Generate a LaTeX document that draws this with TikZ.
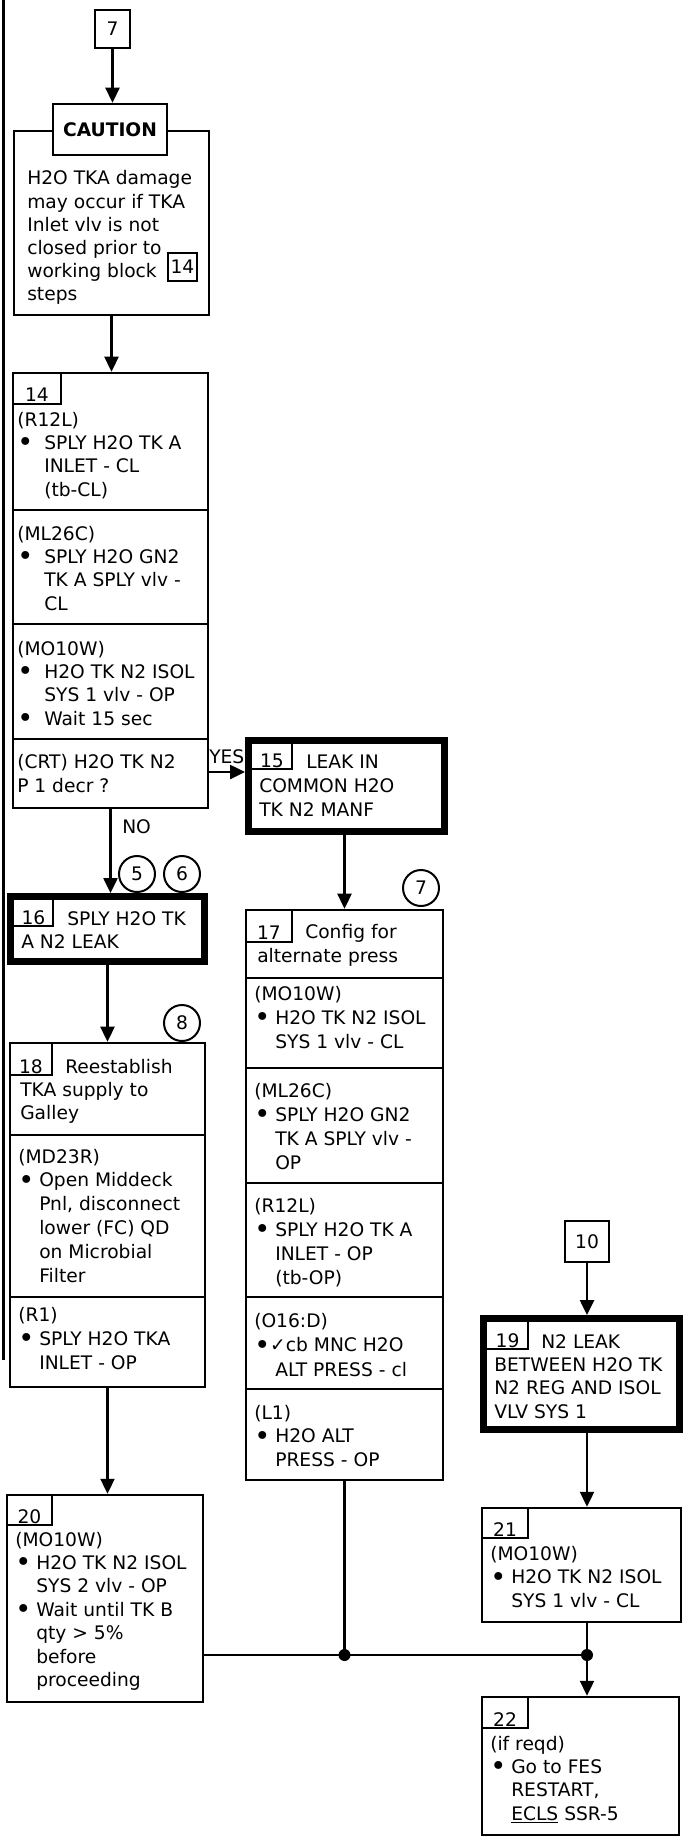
\documentclass[tikz,border=0pt]{standalone}
\usepackage{fontspec}
\usepackage{graphicx}
\setmainfont{DejaVu Sans}
\usetikzlibrary{arrows.meta,fit}
\newlength\bw
\setlength\bw{15.75pt}
\newcommand\fsz{\fontsize{14pt}{16pt}\selectfont}
\newcommand\bigbul{\raisebox{-1.9pt}{\scalebox{1.45}{•}}}
\newcommand\bul{\makebox[\bw][l]{\bigbul}}
\newcommand\cnt{\hspace*{\bw}}
\newcommand\mkbx[6]{\path (#3,#4) coordinate (#2a) (#5,#6) coordinate (#2b); \node[#1, fit=(#2a)(#2b)] (#2) {};}
\newcommand\txtlines[5]{\foreach \s [count=\i] in {#5} {\node[txt] (#1-\i) at ({#2},{#3+(\i-1)*#4}) {\s};}}
\tikzset{
  ln/.style={line width=1.8pt},
  tabln/.style={line width=1.6pt},
  bx/.style={draw, line width=1.9pt, inner sep=0pt, outer sep=0.95pt},
  tbx/.style={draw, line width=5.25pt, inner sep=0pt, outer sep=2.6pt},
  txt/.style={anchor=base west, inner sep=0pt, font=\fsz},
  num/.style={anchor=base, inner sep=0pt, font=\fsz},
  arr/.style={line width=1.8pt, -{Triangle[length=11.25pt,width=10.5pt]}},
  cir/.style={circle, draw, line width=1.5pt, minimum size=27pt, inner sep=0pt, font=\fsz},
}
\begin{document}
\begin{tikzpicture}[x=0.75pt,y=-0.75pt]
\useasboundingbox (0,0) rectangle (686,1844);
% margin rule
\draw[line width=2.25pt] (3,0) -- (3,1360);

% box 7 and caution
\mkbx{bx}{b7}{95}{10}{130}{48}
\node[font=\fsz] (t7) at (b7) {7};
\mkbx{bx}{caut}{14}{131}{209}{315}
\mkbx{bx,fill=white,line width=2.2pt}{cap}{53}{104}{167}{155}
\node[font=\fsz\bfseries] (capt) at (cap) {CAUTION};
\draw[arr] (b7.south) -- (b7.south |- cap.north);
\txtlines{cau}{27}{185}{23.2}{H2O TKA damage, may occur if TKA, Inlet vlv is not, closed prior to, working block, steps}
\node[draw, line width=1.6pt, inner sep=0pt, minimum width=21.75pt, minimum height=21pt, font=\fsz] (r14) at (182.5,267) {14};

% box 14
\mkbx{bx}{b14}{13}{373}{208}{808}
\draw[arr] (caut.south) -- (caut.south |- b14.north);
\draw[ln] (13,510) -- (208,510) (13,624) -- (208,624) (13,739) -- (208,739);
\draw[tabln] (13,404) -| (61,373);
\node[num] (n14) at (37,401) {14};
\setlength\bw{20.25pt}
\txtlines{s14a}{17}{426}{23.4}{(R12L), \bul SPLY H2O TK A, \cnt INLET - CL, \cnt (tb-CL)}
\txtlines{s14b}{17}{540}{23.4}{(ML26C), \bul SPLY H2O GN2, \cnt TK A SPLY vlv -, \cnt CL}
\txtlines{s14c}{17}{655}{23.4}{(MO10W), \bul H2O TK N2 ISOL, \cnt SYS 1 vlv - OP, \bul Wait 15 sec}
\txtlines{s14d}{17}{768}{24}{(CRT) H2O TK N2, P 1 decr ?}
\setlength\bw{15.75pt}

% box 15
\mkbx{tbx}{b15}{248.5}{740.5}{444.5}{831.5}
\coordinate (yy) at (0,772);
\draw[arr] (b14.east |- yy) -- (b15.west |- yy);
\node[txt] (yes) at (209,763) {YES};
\draw[tabln] (252,769) -| (292,744);
\node[num] (n15) at (272,767) {15};
\node[txt] (t15a) at (306,768) {LEAK IN};
\txtlines{t15}{259}{792}{24}{COMMON H2O, TK N2 MANF}

% box 17
\mkbx{bx}{b17}{246}{910}{443}{1480}
\draw[arr] (b15.south -| b17.north) -- (b17.north);
\node[cir] (c7) at (421,888) {7};
\draw[ln] (246,978) -- (443,978) (246,1068) -- (443,1068) (246,1183) -- (443,1183) (246,1297) -- (443,1297) (246,1389) -- (443,1389);
\draw[tabln] (246,942) -| (292,910);
\node[num] (n17) at (269,939) {17};
\node[txt] (t17a) at (305,938) {Config for};
\node[txt] (t17b) at (257,962) {alternate press};
\txtlines{s17a}{254}{1000}{24}{(MO10W), \bul H2O TK N2 ISOL, \cnt SYS 1 vlv - CL}
\txtlines{s17b}{254}{1097}{24}{(ML26C), \bul SPLY H2O GN2, \cnt TK A SPLY vlv -, \cnt OP}
\txtlines{s17c}{254}{1212}{24}{(R12L), \bul SPLY H2O TK A, \cnt INLET - OP, \cnt (tb-OP)}
\txtlines{s17d}{254}{1327}{24.5}{(O16:D), \bigbul✓cb MNC H2O, \cnt ALT PRESS - cl}
\txtlines{s17e}{254}{1419}{23.5}{(L1), \bul H2O ALT, \cnt PRESS - OP}

% box 16
\mkbx{tbx}{b16}{10.5}{896.5}{204.5}{961.5}
\draw[arr] (b14.south) -- (b14.south |- b16.north);
\node[txt] (no) at (122,833) {NO};
\node[cir] (c5) at (137,874) {5};
\node[cir] (c6) at (182,874) {6};
\draw[tabln] (14,926) -| (53,900);
\node[num] (n16) at (33.5,924) {16};
\node[txt] (t16a) at (67,925) {SPLY H2O TK};
\node[txt] (t16b) at (21,948) {A N2 LEAK};

% box 18
\mkbx{bx}{b18}{10}{1043}{205}{1387}
\draw[arr] (b16.south) -- (b16.south |- b18.north);
\node[cir] (c8) at (182,1023) {8};
\draw[ln] (10,1135) -- (205,1135) (10,1297) -- (205,1297);
\draw[tabln] (10,1075) -| (52,1043);
\node[num] (n18) at (31,1073) {18};
\node[txt] (t18a) at (65,1073) {Reestablish};
\txtlines{t18}{20}{1096}{23}{TKA supply to, Galley}
\txtlines{s18a}{18}{1163}{23.8}{(MD23R), \bul Open Middeck, \cnt {Pnl, disconnect}, \cnt lower (FC) QD, \cnt on Microbial, \cnt Filter}
\txtlines{s18b}{18}{1321}{24}{(R1), \bul SPLY H2O TKA, \cnt INLET - OP}

% box 20
\mkbx{bx}{b20}{7}{1495}{203}{1702}
\draw[arr] (b18.south) -- (b18.south |- b20.north);
\draw[tabln] (7,1525) -| (52,1495);
\node[num] (n20) at (29.5,1523) {20};
\txtlines{s20}{15}{1546}{23.4}{(MO10W), \bul H2O TK N2 ISOL, \cnt SYS 2 vlv - OP, \bul Wait until TK B, \cnt qty > 5\%, \cnt before, \cnt proceeding}

% right column
\mkbx{bx}{b10}{565}{1221}{609}{1262}
\node[font=\fsz] (t10) at (b10) {10};
\mkbx{tbx}{b19}{483.5}{1318.5}{679.5}{1429.5}
\draw[arr] (b10.south) -- (b10.south |- b19.north);
\draw[tabln] (487,1349) -| (528,1322);
\node[num] (n19) at (507.5,1347) {19};
\node[txt] (t19a) at (541,1348) {N2 LEAK};
\txtlines{t19}{494}{1371}{23.5}{BETWEEN H2O TK, N2 REG AND ISOL, VLV SYS 1}

\mkbx{bx}{b21}{482}{1508}{681}{1622}
\draw[arr] (b10.south |- b19.south) -- (b10.south |- b21.north);
\draw[tabln] (482,1538) -| (528,1508);
\node[num] (n21) at (505,1536) {21};
\txtlines{s21}{490}{1560}{23.5}{(MO10W), \bul H2O TK N2 ISOL, \cnt SYS 1 vlv - CL}

\mkbx{bx}{b22}{482}{1697}{679}{1835}
\draw[arr] (b10.south |- b21.south) -- (b10.south |- b22.north);
\draw[tabln] (482,1728) -| (528,1697);
\node[num] (n22) at (505,1726) {22};
\txtlines{s22}{490}{1750}{23.4}{(if reqd), \bul Go to FES, \cnt {RESTART,}, \cnt \underline{ECLS} SSR-5}

% junction
\coordinate (hy) at (0,1655);
\coordinate (j1) at (b17.south |- hy);
\coordinate (j2) at (b10.south |- hy);
\draw[ln] (b17.south) -- (j1);
\draw[ln] (b20.east |- hy) -- (j2);
\fill (j1) circle (4.5pt);
\fill (j2) circle (4.5pt);
\end{tikzpicture}
\end{document}
